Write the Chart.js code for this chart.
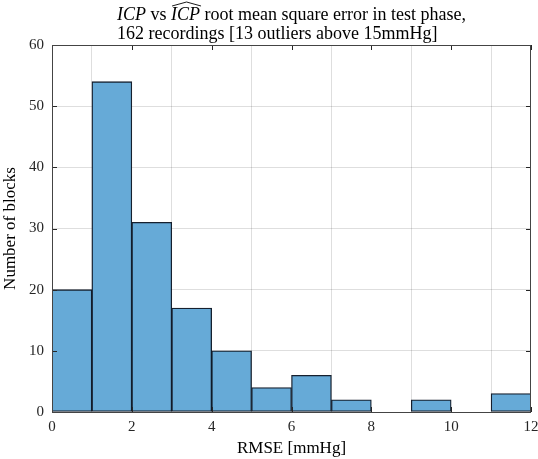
<!DOCTYPE html>
<html lang="en">
<head>
<meta charset="UTF-8">
<title>ICP RMSE histogram</title>
<script src="https://cdn.jsdelivr.net/npm/chart.js"></script>
<style>
  html, body { margin: 0; padding: 0; background: #fff; }
  #wrap { width: 538px; height: 459px; }
</style>
</head>
<body>
<div id="wrap"><canvas id="grafico"></canvas></div>
<script>
// bins of 1 mmHg, from 0 to 12
const binLeft = [0, 1, 2, 3, 4, 5, 6, 7, 8, 9, 10, 11]
const blockCounts = [20, 54, 31, 17, 10, 4, 6, 2, 0, 2, 0, 3]
const xTicks = [0, 2, 4, 6, 8, 10, 12]
const yTicks = [0, 10, 20, 30, 40, 50, 60]

const serif = "'Liberation Serif', 'DejaVu Serif', serif"

// title with italic ICP and a hat on the second one
const tituloPlugin = {
  id: 'tituloPlugin',
  afterDraw(chart) {
    const ctx = chart.ctx
    const area = chart.chartArea
    ctx.save()
    ctx.fillStyle = '#000'
    ctx.textBaseline = 'alphabetic'
    const normal = '18px ' + serif
    const italic = 'italic 18px ' + serif
    const partes = [
      [italic, 'ICP'], [normal, ' vs '], [italic, 'ICP'],
      [normal, ' root mean square error in test phase,']
    ]
    let ancho = 0
    partes.forEach(p => { ctx.font = p[0]; ancho += ctx.measureText(p[1]).width })
    let x = (area.left + area.right) / 2 - ancho / 2
    const x0 = x
    partes.forEach((p, i) => {
      ctx.font = p[0]
      ctx.fillText(p[1], x, 20)
      const w = ctx.measureText(p[1]).width
      if (i == 2) {
        // wide hat
        ctx.beginPath()
        ctx.lineWidth = 0.9
        ctx.strokeStyle = '#000'
        ctx.moveTo(x + 1, 6)
        ctx.lineTo(x + w / 2 + 1, 2)
        ctx.lineTo(x + w + 1, 6)
        ctx.stroke()
      }
      x += w
    })
    ctx.font = normal
    ctx.fillText('162 recordings [13 outliers above 15mmHg]', x0, 39)
    ctx.restore()
  }
}

// axes box with inward ticks
const cajaPlugin = {
  id: 'cajaPlugin',
  afterDatasetsDraw(chart) {
    const ctx = chart.ctx
    const a = chart.chartArea
    const sx = chart.scales.x
    const sy = chart.scales.y
    ctx.save()
    ctx.strokeStyle = '#262626'
    ctx.lineWidth = 1
    ctx.beginPath()
    xTicks.forEach(t => {
      const px = Math.round(sx.getPixelForValue(t)) + 0.5
      ctx.moveTo(px, a.bottom); ctx.lineTo(px, a.bottom - 5)
      ctx.moveTo(px, a.top); ctx.lineTo(px, a.top + 5)
    })
    yTicks.forEach(t => {
      const py = Math.round(sy.getPixelForValue(t)) + 0.5
      ctx.moveTo(a.left, py); ctx.lineTo(a.left + 5, py)
      ctx.moveTo(a.right, py); ctx.lineTo(a.right - 5, py)
    })
    ctx.stroke()
    ctx.strokeStyle = '#444'
    ctx.strokeRect(Math.round(a.left) + 0.5, Math.round(a.top) + 0.5,
      Math.round(a.right - a.left) - 1, Math.round(a.bottom - a.top))
    ctx.restore()
  }
}

const puntos = binLeft.map((b, i) => ({ x: b + 0.5, y: blockCounts[i] }))

new Chart(document.querySelector('#grafico'), {
  type: 'bar',
  data: {
    datasets: [{
      data: puntos,
      backgroundColor: 'rgb(102, 170, 215)',
      borderColor: 'rgba(10, 20, 35, 0.95)',
      borderWidth: 1.3,
      borderSkipped: false,
      barPercentage: 1,
      categoryPercentage: 1
    }]
  },
  options: {
    responsive: true,
    maintainAspectRatio: false,
    animation: false,
    layout: { padding: { top: 45, right: 7, left: 0, bottom: 0 } },
    plugins: {
      legend: { display: false },
      tooltip: { enabled: false }
    },
    scales: {
      x: {
        type: 'linear',
        min: 0,
        max: 12,
        offset: false,
        border: { display: false },
        grid: { color: 'rgba(0,0,0,0.13)', drawTicks: false },
        ticks: {
          stepSize: 2,
          padding: 6,
          color: '#262626',
          font: { family: serif, size: 15 }
        },
        title: {
          display: true,
          text: 'RMSE [mmHg]',
          color: '#000',
          padding: { top: 1, bottom: 0 },
          font: { family: serif, size: 17 }
        },
        afterFit(scale) {
          scale.height = 47
          scale.paddingRight = 0
          scale.paddingLeft = 0
        }
      },
      y: {
        min: 0,
        max: 60,
        border: { display: false },
        grid: { color: 'rgba(0,0,0,0.13)', drawTicks: false },
        ticks: {
          stepSize: 10,
          padding: 8,
          color: '#262626',
          font: { family: serif, size: 15 }
        },
        title: {
          display: true,
          text: 'Number of blocks',
          color: '#000',
          padding: { top: 0, bottom: 4 },
          font: { family: serif, size: 17 }
        },
        afterFit(scale) {
          scale.width = 52
          scale.paddingTop = 0
          scale.paddingBottom = 0
        }
      }
    }
  },
  plugins: [tituloPlugin, cajaPlugin]
})
</script>
</body>
</html>
